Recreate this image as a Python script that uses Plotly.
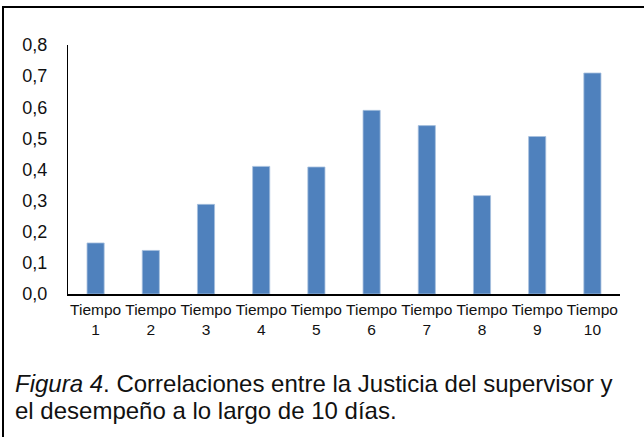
import plotly.graph_objects as go

categories = [f"Tiempo<br>{i}" for i in range(1, 11)]
correlations = [0.164, 0.140, 0.288, 0.410, 0.408, 0.590, 0.541, 0.316, 0.506, 0.710]
y_ticks = [0.0, 0.1, 0.2, 0.3, 0.4, 0.5, 0.6, 0.7, 0.8]

caption_lines = [
    "<i>Figura 4</i>. Correlaciones entre la Justicia del supervisor y",
    "el desempeño a lo largo de 10 días.",
]

W, H = 644, 437
L, R, T, B = 68, 24, 45, 143
pw, ph = W - L - R, H - T - B


def px_x(x):
    return (x - L) / pw


def px_y(y):
    return 1 - (y - T) / ph


fig = go.Figure()
fig.add_bar(
    x=categories,
    y=correlations,
    marker_color="#4F81BD",
    marker_line=dict(color="#A7C0DE", width=0.8),
)

fig.update_layout(
    width=W,
    height=H,
    margin=dict(l=L, r=R, t=T, b=B),
    paper_bgcolor="white",
    plot_bgcolor="white",
    bargap=0.69,
    showlegend=False,
    separators=",.",
    font=dict(family="Liberation Sans, Arial", color="#111111"),
)

fig.update_yaxes(
    range=[0, 0.8],
    tickvals=y_ticks,
    tickformat=".1f",
    showgrid=False,
    zeroline=False,
    showline=True,
    linecolor="black",
    linewidth=1,
    ticks="",
    ticklabelstandoff=16,
    tickfont=dict(size=18),
)

fig.update_xaxes(
    showgrid=False,
    showline=True,
    linecolor="black",
    linewidth=2,
    ticks="",
    tickangle=0,
    tickfont=dict(size=15.5),
)

# outer frame, cropped at right and bottom like the reference
fig.add_shape(
    type="rect",
    xref="paper",
    yref="paper",
    x0=px_x(3),
    y0=px_y(H + 10),
    x1=px_x(W + 10),
    y1=px_y(7),
    line=dict(color="black", width=2),
    fillcolor="rgba(0,0,0,0)",
)

for i, line in enumerate(caption_lines):
    fig.add_annotation(
        xref="paper",
        yref="paper",
        x=px_x(13),
        y=px_y(368 + 27 * i),
        xanchor="left",
        yanchor="top",
        align="left",
        showarrow=False,
        text=line,
        font=dict(size=24, color="#111111"),
    )

fig.write_html(
    "out.html",
    config={"displayModeBar": False},
    post_script="document.body.style.margin = '0';",
)
